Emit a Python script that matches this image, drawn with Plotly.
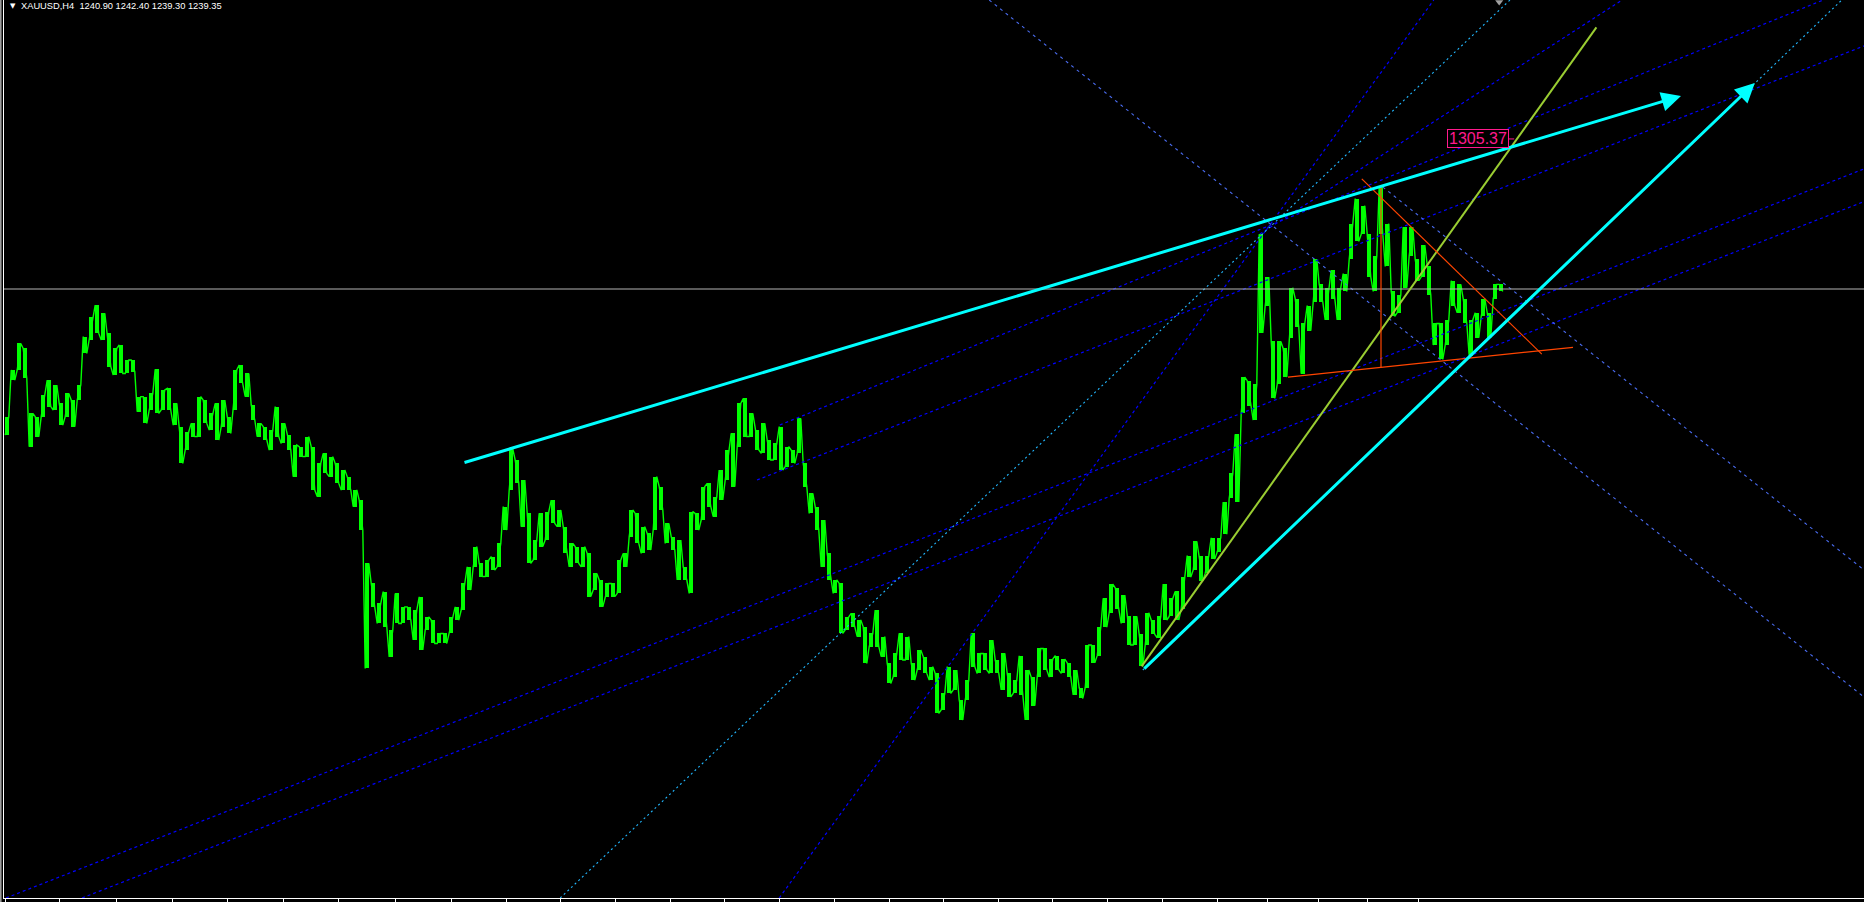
import plotly.graph_objects as go

# ---- price data (sampled H4 bars, XAUUSD) : high / low per sampled bar ----
bar_high = [
1183.2,1203.7,1215.4,1213.2,1184.6,1183.2,1192.7,1199.3,1197.1,1189.0,
1193.4,1190.5,1197.1,1218.4,1227.2,1232.3,1228.6,1219.8,1213.2,1214.7,
1208.1,1208.1,1192.0,1192.0,1193.4,1204.0,1194.9,1195.6,1189.0,1178.8,
1176.6,1180.2,1192.0,1190.5,1184.6,1189.0,1190.5,1183.2,1203.7,1205.9,
1202.2,1188.3,1180.2,1178.8,1177.3,1187.6,1180.2,1175.1,1170.7,1170.0,
1174.4,1170.0,1162.6,1167.0,1165.6,1162.6,1159.7,1156.8,1150.9,1146.5,
1118.6,1109.8,1101.0,1106.2,1089.3,1105.4,1099.5,1099.5,1098.1,1103.9,
1095.1,1093.7,1087.8,1087.8,1095.1,1099.5,1109.8,1117.1,1126.0,1118.6,
1120.1,1121.6,1127.4,1143.6,1169.0,1164.1,1155.3,1140.6,1128.9,1140.6,
1141.4,1146.5,1142.1,1134.8,1127.4,1126.0,1126.0,1123.0,1114.2,1111.3,
1109.8,1109.8,1120.1,1123.0,1142.1,1140.6,1134.8,1131.8,1156.8,1152.4,
1136.2,1130.4,1128.9,1117.1,1141.4,1140.6,1152.4,1153.8,1148.0,1159.7,
1168.5,1175.8,1189.0,1191.2,1184.6,1177.3,1180.2,1172.9,1171.4,1178.8,
1170.0,1168.5,1182.4,1162.6,1149.4,1143.6,1137.7,1123.0,1111.3,1109.8,
1095.1,1096.6,1093.7,1090.7,1087.8,1098.1,1086.4,1074.6,1079.0,1087.8,
1086.4,1074.6,1080.5,1077.6,1073.2,1070.2,1061.4,1073.2,1071.7,1058.5,
1067.3,1087.8,1079.0,1079.0,1084.9,1076.1,1079.0,1070.2,1067.3,1078.0,
1071.7,1068.6,1081.2,1081.2,1076.5,1078.0,1076.5,1074.9,1071.7,1063.9,
1082.7,1082.7,1090.6,1103.2,1109.5,1107.9,1104.7,1095.3,1095.3,1087.4,
1096.9,1093.7,1095.3,1109.5,1103.2,1106.3,1112.6,1122.0,1128.3,1122.0,
1122.0,1129.9,1129.9,1145.6,1158.2,1175.4,1200.6,1199.0,1197.4,1263.4,
1244.6,1216.3,1216.3,1213.2,1239.9,1235.1,1224.2,1232.0,1252.4,1241.4,
1239.9,1247.7,1239.9,1246.1,1268.1,1279.1,1276.0,1263.4,1254.0,1284.6,
1268.1,1238.3,1236.7,1266.6,1266.6,1252.4,1258.7,1249.3,1224.2,1224.2,
1225.7,1243.0,1241.4,1235.1,1225.7,1228.9,1235.1,1228.9,1241.4,1241.4,
]
bar_low = [
1175.1,1199.3,1203.7,1200.0,1170.0,1174.4,1183.2,1187.6,1186.1,1179.5,
1183.2,1178.8,1190.5,1211.0,1216.9,1219.8,1216.9,1205.2,1201.5,1202.2,
1202.2,1203.0,1185.4,1180.2,1186.1,1184.6,1186.1,1186.1,1179.5,1162.6,
1168.5,1174.4,1174.4,1180.2,1177.3,1172.9,1178.8,1175.8,1186.1,1197.8,
1192.0,1181.7,1174.4,1172.9,1168.5,1174.4,1171.4,1168.5,1156.8,1165.6,
1165.6,1150.9,1148.0,1158.2,1156.8,1153.8,1150.9,1150.9,1143.6,1133.3,
1072.4,1099.5,1092.2,1090.7,1077.5,1092.2,1092.2,1093.7,1084.9,1080.5,
1089.3,1083.4,1083.4,1083.4,1087.8,1093.7,1098.1,1106.9,1117.1,1112.8,
1112.8,1115.7,1117.1,1133.3,1150.9,1153.8,1134.8,1118.6,1120.1,1126.0,
1128.9,1136.2,1134.8,1123.0,1117.1,1118.6,1117.1,1104.0,1106.9,1099.5,
1104.0,1104.0,1105.4,1117.1,1130.4,1127.4,1123.0,1124.5,1133.3,1142.1,
1127.4,1124.5,1111.3,1111.3,1105.4,1133.3,1137.7,1143.6,1139.2,1146.5,
1155.3,1152.4,1170.0,1174.4,1174.4,1168.5,1167.0,1164.1,1164.1,1159.7,
1161.2,1162.6,1167.0,1152.4,1140.6,1133.3,1117.1,1111.3,1105.4,1087.8,
1089.3,1090.7,1086.4,1074.6,1082.0,1082.0,1077.6,1065.8,1068.8,1076.1,
1076.1,1067.3,1071.7,1070.2,1067.3,1052.6,1054.1,1061.4,1062.9,1049.7,
1058.5,1073.2,1070.2,1071.7,1070.2,1070.2,1062.9,1059.9,1061.4,1060.8,
1049.7,1056.0,1068.6,1071.7,1068.6,1071.7,1070.2,1068.6,1060.8,1059.2,
1063.9,1074.9,1078.0,1090.6,1096.9,1098.5,1092.2,1082.7,1082.7,1073.3,
1082.7,1087.4,1085.9,1093.7,1095.3,1093.7,1098.5,1112.6,1115.7,1111.0,
1114.2,1120.5,1123.6,1131.5,1147.2,1145.6,1184.9,1188.0,1181.7,1220.0,
1232.0,1191.2,1197.4,1200.6,1217.9,1222.6,1202.1,1221.0,1233.6,1233.6,
1225.7,1235.1,1225.7,1238.3,1252.4,1260.3,1263.4,1244.6,1238.3,1263.4,
1249.3,1227.3,1228.9,1239.9,1254.0,1243.0,1244.6,1236.7,1214.7,1208.4,
1214.7,1232.0,1228.9,1224.2,1210.0,1217.9,1227.3,1217.9,1235.1,1238.3,
]

symbol_text = "XAUUSD,H4"
ohlc_last = [1240.90, 1242.40, 1239.30, 1239.35]
bid_price = 1239.35
price_label = 1305.37

# time-scale tick marks (bar-index units)
tick_positions = [-0.33, 8.83, 18.17, 27.5, 36.83, 46.0, 55.33, 64.67, 74.0, 83.17,
                  92.28, 101.4, 110.5, 119.6, 128.7, 137.9, 147.0, 156.1, 165.2,
                  174.3, 183.4, 192.6, 201.67, 210.0, 218.5, 226.83, 235.17]

# drawn objects: (bar index, price) endpoints
blue_dot_lines = [
    ((-0.17, 971.4), (309.5, 1292.2)),
    ((12.5, 971.4), (309.5, 1277.8)),
    ((128.8, 1179.5), (302.7, 1366.5)),
    ((125.0, 1155.3), (309.5, 1346.3)),
    ((128.7, 971.4), (237.8, 1366.5)),
    ((208.8, 1263.5), (269.2, 1366.5)),
]
light_blue_dot_lines = [
    ((163.7, 1366.5), (309.5, 1059.8)),
    ((229.3, 1284.2), (309.5, 1115.7)),
]
cyan_dot_lines = [
    ((92.2, 971.4), (250.5, 1366.5)),
    ((189.3, 1071.7), (305.8, 1366.5)),
]
cyan_arrows = [
    ((76.0, 1162.8), (279.0, 1324.3)),
    ((189.3, 1071.7), (291.3, 1330.0)),
]
yellow_line = ((189.1, 1073.3), (264.9, 1354.5))
orange_lines = [
    ((213.5, 1200.6), (261.0, 1213.7)),
    ((225.8, 1287.8), (255.8, 1210.7)),
    ((229.0, 1283.8), (229.0, 1204.7)),
]
label_pos = (245.1, price_label)
marker_pos = (248.7, 1365.6)

Y_MIN, Y_MAX = 971.39, 1366.51
X_MIN, X_MAX = -0.5, 309.5

fig = go.Figure()

n = len(bar_high)
idx = list(range(n))

# price bars: one column from low to high per sampled bar
fig.add_trace(go.Bar(x=idx, y=[h - l for h, l in zip(bar_high, bar_low)], base=bar_low,
                     width=0.72, marker=dict(color="#00FF00", line=dict(width=0)),
                     hoverinfo="skip", showlegend=False))

# jagged connecting path through each bar's low/high
xs, ys = [], []
for k, (h, l) in enumerate(zip(bar_high, bar_low)):
    xs += [k - 0.3, k + 0.3]
    ys += [l, h] if k % 2 == 0 else [h, l]
fig.add_trace(go.Scatter(x=xs, y=ys, mode="lines",
                         line=dict(color="#00FF00", width=1.4),
                         hoverinfo="skip", showlegend=False))

def add_seg(p0, p1, color, width, dash="solid"):
    fig.add_trace(go.Scatter(x=[p0[0], p1[0]], y=[p0[1], p1[1]], mode="lines",
                             line=dict(color=color, width=width, dash=dash),
                             hoverinfo="skip", showlegend=False))

for a, b in blue_dot_lines:
    add_seg(a, b, "#0000FF", 1.2, "3px,3px")
for a, b in light_blue_dot_lines:
    add_seg(a, b, "#4A6CF0", 1.1, "3px,4px")
for a, b in cyan_dot_lines:
    add_seg(a, b, "#22B8FF", 1.1, "2px,3px")

# bid line
add_seg((X_MIN, bid_price), (X_MAX, bid_price), "#B4B4B4", 1)

add_seg(yellow_line[0], yellow_line[1], "#9ACD32", 2)
for a, b in orange_lines:
    add_seg(a, b, "#FF4500", 1.2)

# cyan arrows
for a, b in cyan_arrows:
    fig.add_annotation(x=b[0], y=b[1], ax=a[0], ay=a[1], xref="x", yref="y",
                       axref="x", ayref="y", text="", showarrow=True,
                       arrowhead=2, arrowsize=1.3, arrowwidth=3,
                       arrowcolor="#00FFFF")

# price label
fig.add_annotation(x=label_pos[0], y=label_pos[1], xref="x", yref="y",
                   text=f"{price_label:.2f}", showarrow=False,
                   font=dict(family="Liberation Sans, Arial, sans-serif",
                             size=16, color="#FF1A8C"),
                   bordercolor="#FF1A8C", borderwidth=1, borderpad=1,
                   bgcolor="#000000", width=58, height=15)
add_seg((250.2, price_label), (251.2, price_label), "#FF1A8C", 1)

fig.add_trace(go.Scatter(x=[marker_pos[0]], y=[marker_pos[1]], mode="markers",
                         marker=dict(symbol="triangle-down", size=7, color="#A0A0A0"),
                         hoverinfo="skip", showlegend=False, cliponaxis=False))

# header text
fig.add_annotation(xref="paper", yref="paper", x=(8 - 4) / 1860, y=1 - 6.5 / 898,
                   xanchor="left", yanchor="middle", showarrow=False,
                   text="▼", font=dict(family="DejaVu Sans", size=7, color="white"))
fig.add_annotation(xref="paper", yref="paper", x=(19 - 4) / 1860, y=1 - 6.5 / 898,
                   xanchor="left", yanchor="middle", showarrow=False,
                   text=symbol_text + "\u00a0\u00a0" + " ".join(f"{v:.2f}" for v in ohlc_last),
                   font=dict(family="Liberation Sans, Arial, sans-serif", size=9.3, color="white"))

# gray outer border at far left
fig.add_shape(type="line", xref="paper", yref="paper", x0=(0.8 - 4) / 1860, x1=(0.8 - 4) / 1860,
              y0=-4 / 898, y1=1, line=dict(color="#9A9A9A", width=1.6))

fig.update_layout(
    width=1864, height=902,
    margin=dict(l=4, r=0, t=0, b=4),
    paper_bgcolor="#000000", plot_bgcolor="#000000",
    showlegend=False, bargap=0,
    xaxis=dict(range=[X_MIN, X_MAX], showgrid=False, zeroline=False,
               showline=True, linecolor="white", linewidth=1,
               ticks="outside", ticklen=4, tickwidth=1, tickcolor="white",
               tickvals=tick_positions, showticklabels=False, fixedrange=True),
    yaxis=dict(range=[Y_MIN, Y_MAX], showgrid=False, zeroline=False,
               showline=True, linecolor="white", linewidth=1,
               ticks="", showticklabels=False, fixedrange=True),
)

fig.write_html("out.html", config={"displayModeBar": False},
               post_script="document.body.style.margin='0';document.body.style.overflow='hidden';")
